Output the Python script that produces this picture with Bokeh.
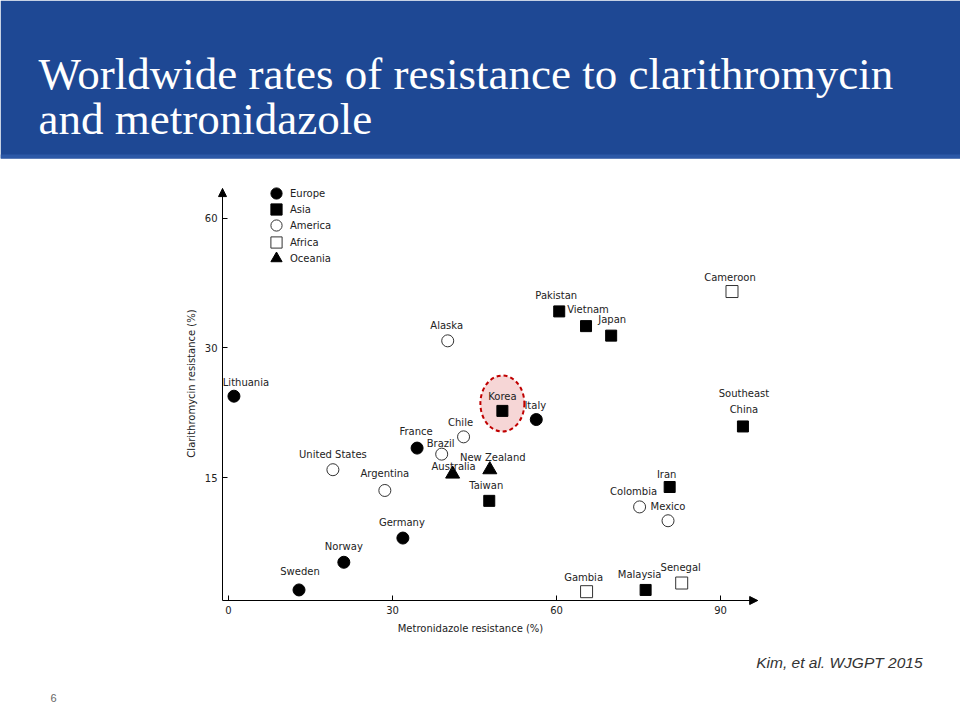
from bokeh.plotting import figure
from bokeh.models import (Range1d, FixedTicker, Label, Legend, LegendItem, Arrow,
                          NormalHead, ColumnDataSource, BoxAnnotation)
from bokeh.core.properties import value
from bokeh.embed import file_html
from bokeh.resources import INLINE

# ---------------- data ----------------
title_lines = ["Worldwide rates of resistance to clarithromycin", "and metronidazole"]
x_title = "Metronidazole resistance (%)"
y_title = "Clarithromycin resistance (%)"
citation = "Kim, et al. WJGPT 2015"
page_number = "6"

x_ticks = [0, 30, 60, 90]
y_ticks = [15, 30, 45]
y_tick_labels = ["15", "30", "60"]

regions = ["Europe", "Asia", "America", "Africa", "Oceania"]

europe_names = ["Lithuania", "France", "Italy", "Germany", "Norway", "Sweden"]
europe_metro = [1.0, 34.5, 56.3, 31.9, 21.1, 12.9]
europe_clari = [24.4, 18.4, 21.7, 8.0, 5.2, 2.0]

asia_names = ["Korea", "Taiwan", "Pakistan", "Vietnam", "Japan", "Southeast\nChina", "Iran", "Malaysia"]
asia_metro = [50.1, 47.7, 60.5, 65.4, 70.0, 94.1, 80.7, 76.3]
asia_clari = [22.7, 12.3, 34.2, 32.5, 31.4, 20.9, 13.9, 2.0]

america_names = ["Alaska", "Chile", "Brazil", "United States", "Argentina", "Colombia", "Mexico"]
america_metro = [40.1, 43.0, 39.0, 19.1, 28.6, 75.2, 80.4]
america_clari = [30.8, 19.7, 17.7, 15.9, 13.5, 11.6, 10.0]

africa_names = ["Cameroon", "Gambia", "Senegal"]
africa_metro = [92.1, 65.5, 82.9]
africa_clari = [36.5, 1.8, 2.8]

oceania_names = ["Australia", "New Zealand"]
oceania_metro = [41.0, 47.8]
oceania_clari = [15.4, 15.9]

highlight = "Korea"

# ---------------- style / layout ----------------
W, H = 960, 720
BLUE = "#1e4894"
BLUE_EDGE = "#2c58a6"
TXT = "#222222"
FONT = "DejaVu Sans"

# pixel calibration of the chart area (page px)
PX_REF, X_REF, PX_PER_X = 556.0, 60.0, 5.467
PY_REF, Y_REF, PX_PER_Y = 477.0, 15.0, 8.65
X_START = X_REF - PX_REF / PX_PER_X
X_END = X_REF + (W - PX_REF) / PX_PER_X
Y_END = Y_REF + PY_REF / PX_PER_Y
Y_START = Y_REF - (H - PY_REF) / PX_PER_Y
# axis extents (data units)
X0, X1 = -1.09, 96.8
Y0, Y1 = 0.78, 48.4

label_offsets = {  # screen px (dx, dy); negative dy = up
    "Lithuania": (12, -14), "France": (-1, -17), "Italy": (-1, -14), "Germany": (-1, -16),
    "Norway": (0, -16), "Sweden": (1, -18),
    "Korea": (0, -14), "Taiwan": (-3, -15), "Pakistan": (-3, -16), "Vietnam": (2, -17),
    "Japan": (1, -16), "Southeast\nChina": (1, -25), "Iran": (-3, -13), "Malaysia": (-6, -15),
    "Alaska": (-1, -15), "Chile": (-3, -14), "Brazil": (-1, -11), "United States": (0, -15),
    "Argentina": (0, -17), "Colombia": (-6, -15), "Mexico": (0, -14),
    "Cameroon": (-2, -14), "Gambia": (-3, -14), "Senegal": (-1, -16),
    "Australia": (1, -8), "New Zealand": (3, -12),
}
marker_styles = {
    "Europe": dict(marker="circle", size=12, fill_color="black", line_color="black"),
    "Asia": dict(marker="square", size=11, fill_color="black", line_color="black"),
    "America": dict(marker="circle", size=12, fill_color="white", line_color="#333333"),
    "Africa": dict(marker="square", size=12, fill_color="white", line_color="#333333"),
    "Oceania": dict(marker="triangle", size=14, fill_color="black", line_color="black"),
}
legend_centers_py = [193, 209, 225, 242, 258]  # page px of legend rows
legend_marker_px = 276

p = figure(width=W, height=H, x_range=Range1d(X_START, X_END), y_range=Range1d(Y_START, Y_END),
           output_backend="svg", toolbar_location=None, min_border=0,
           outline_line_color=None, background_fill_color="white", border_fill_color="white")
p.grid.visible = False

# header banner and title
p.add_layout(BoxAnnotation(top=H, bottom=H - 158, top_units="screen", bottom_units="screen",
                           fill_color=BLUE, fill_alpha=1.0, line_color=None, level="underlay"))
p.add_layout(BoxAnnotation(top=H - 154, bottom=H - 158, top_units="screen", bottom_units="screen",
                           fill_color=BLUE_EDGE, fill_alpha=1.0, line_color=None, level="underlay"))
for i, line in enumerate(title_lines):
    p.add_layout(Label(x=38, y=H - (73 + 45 * i), x_units="screen", y_units="screen", text=line,
                       text_font="Liberation Serif", text_font_size="45px", text_color="white",
                       text_baseline="alphabetic", text_align="left"))

# axes
p.xaxis[0].fixed_location = Y0
p.yaxis[0].fixed_location = X0
p.xaxis[0].bounds = (X0, X1)
p.yaxis[0].bounds = (Y0, Y1)
for ax in (p.xaxis[0], p.yaxis[0]):
    ax.axis_line_color = "black"
    ax.axis_line_width = 1
    ax.major_tick_in = 5
    ax.major_tick_out = 0
    ax.minor_tick_line_color = None
    ax.major_tick_line_color = "black"
    ax.major_label_text_font = FONT
    ax.major_label_text_font_size = "10px"
    ax.major_label_text_color = TXT
    ax.major_label_standoff = 5
p.xaxis[0].ticker = FixedTicker(ticks=x_ticks)
p.yaxis[0].ticker = FixedTicker(ticks=y_ticks)
p.yaxis[0].major_label_overrides = {t: l for t, l in zip(y_ticks, y_tick_labels)}

# axis arrows
p.add_layout(Arrow(end=NormalHead(size=8, fill_color="black", line_color="black", line_width=1),
                   x_start=X0, y_start=Y1 - 1, x_end=X0, y_end=Y1, line_color="black", line_width=1))
p.add_layout(Arrow(end=NormalHead(size=8, fill_color="black", line_color="black", line_width=1),
                   x_start=X1 - 1, y_start=Y0, x_end=X1, y_end=Y0, line_color="black", line_width=1))

# Korea highlight ellipse
ki = asia_names.index(highlight)
p.ellipse(x=[asia_metro[ki]], y=[asia_clari[ki] + 0.85], width=44, height=56,
          width_units="screen", height_units="screen",
          fill_color="#f6d6d6", fill_alpha=1.0, line_color="#c00000",
          line_dash="4 3", line_width=2)

data = {
    "Europe": (europe_names, europe_metro, europe_clari),
    "Asia": (asia_names, asia_metro, asia_clari),
    "America": (america_names, america_metro, america_clari),
    "Africa": (africa_names, africa_metro, africa_clari),
    "Oceania": (oceania_names, oceania_metro, oceania_clari),
}

renderers = {}
all_names, all_x, all_y, all_dx, all_dy = [], [], [], [], []
for reg in regions:
    names, xs, ys = data[reg]
    src = ColumnDataSource(dict(x=xs, y=ys, name=names))
    renderers[reg] = p.scatter("x", "y", source=src, line_width=1, **marker_styles[reg])
    for n, xv, yv in zip(names, xs, ys):
        all_names.append(n); all_x.append(xv); all_y.append(yv)
        all_dx.append(label_offsets[n][0]); all_dy.append(label_offsets[n][1])

lab_src = ColumnDataSource(dict(x=all_x, y=all_y, text=all_names, dx=all_dx, dy=all_dy))
p.text("x", "y", text="text", source=lab_src, x_offset="dx", y_offset="dy",
       text_font=value(FONT), text_font_size="10px", text_color=TXT,
       text_align="center", text_baseline="middle", text_line_height=1.5)

# legend: one single-row legend per region
for reg, cy in zip(regions, legend_centers_py):
    lg = Legend(items=[LegendItem(label=reg, renderers=[renderers[reg]])],
                location=(legend_marker_px - 14, H - (cy + 15)),
                glyph_width=28, glyph_height=30, spacing=0,
                label_standoff=0, padding=0, margin=0, border_line_color=None,
                background_fill_alpha=0, label_text_font=FONT, label_text_font_size="10px",
                label_text_color=TXT, label_height=12)
    p.add_layout(lg)

# axis titles
p.add_layout(Label(x=470, y=H - 628, x_units="screen", y_units="screen", text=x_title,
                   text_font=FONT, text_font_size="10px", text_color=TXT,
                   text_align="center", text_baseline="middle"))
p.add_layout(Label(x=191, y=H - 383, x_units="screen", y_units="screen", text=y_title,
                   angle=1.5708, text_font=FONT, text_font_size="10px", text_color=TXT,
                   text_align="center", text_baseline="middle"))

# footer texts
p.add_layout(Label(x=922, y=H - 662, x_units="screen", y_units="screen", text=citation,
                   text_font="Liberation Sans", text_font_style="italic", text_font_size="15.5px",
                   text_color="#333333", text_align="right", text_baseline="middle"))
p.add_layout(Label(x=53, y=H - 697, x_units="screen", y_units="screen", text=page_number,
                   text_font="Liberation Sans", text_font_size="11px",
                   text_color="#666666", text_align="center", text_baseline="middle"))

open("out.html", "w").write(file_html(p, INLINE))
